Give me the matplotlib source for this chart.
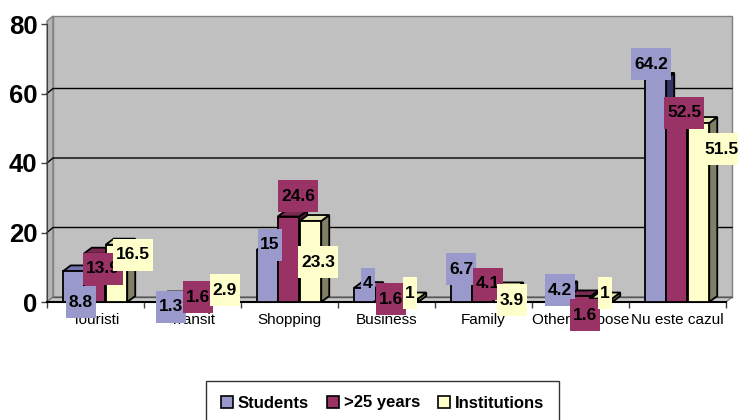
import matplotlib
matplotlib.use("Agg")
import matplotlib.pyplot as plt
from matplotlib.patches import Polygon, Rectangle, Patch
from matplotlib import font_manager
import numpy as np

categories = ["Touristi", "Transit", "Shopping", "Business", "Family", "Other purpose", "Nu este cazul"]
students = [8.8, 1.3, 15, 4, 6.7, 4.2, 64.2]
over25 = [13.9, 1.6, 24.6, 1.6, 4.1, 1.6, 52.5]
institutions = [16.5, 2.9, 23.3, 1, 3.9, 1, 51.5]
series_names = ["Students", ">25 years", "Institutions"]
yticks = [0, 20, 40, 60, 80]

front = ["#9999CC", "#993366", "#FFFFCC"]
topc = ["#7373AD", "#7A2952", "#E6E6B3"]
sidec = ["#333366", "#4D1A33", "#808066"]

# label offsets in pixels (right, down) from the top centre of each bar
lab_off = [
    [(7.5, 30.6), (0.5, 9.5), (2.5, -4.9), (3.5, -4.1), (-0.5, -9.7), (1.5, 2.6), (-4.5, -14.9)],
    [(8.5, 15.3), (6.5, 0.6), (9.5, -20.5), (5.5, 2.6), (5.5, -3.8), (5.5, 18.6), (7.5, -6.6)],
    [(16.5, 10.3), (11.5, -1.9), (7.5, 41), (2.5, -5.5), (7.5, 11.6), (3.5, -5.5), (22.5, 26)],
]

names = {f.name for f in font_manager.fontManager.ttflist}
fam = "Liberation Sans Narrow" if "Liberation Sans Narrow" in names else "Liberation Sans"
plt.rcParams["font.family"] = [fam, "DejaVu Sans"]

W, H = 738, 420
L, R, B, T = 47, 726, 302, 24
fig = plt.figure(figsize=(W / 100, H / 100), dpi=100)
ax = fig.add_axes([L / W, 1 - B / H, (R - L) / W, (B - T) / H])
ax.set_xlim(-0.5, 6.5)
ax.set_ylim(0, 80)
ax.patch.set_visible(False)

sx = 7 / (R - L)
sy = 80 / (B - T)

# walls and floor
dxw, dyw = 6 * sx, 5 * sy
wtop = 286 * sy
wall_kw = dict(clip_on=False, lw=1, ec="#808080")
ax.add_patch(Polygon([(-0.5 + dxw, dyw), (6.5 + dxw, dyw), (6.5 + dxw, wtop), (-0.5 + dxw, wtop)],
                     fc="#C0C0C0", zorder=0, **wall_kw))
ax.add_patch(Polygon([(-0.5, 0), (-0.5 + dxw, dyw), (-0.5 + dxw, wtop), (-0.5, wtop - dyw)],
                     fc="#B4B4B4", zorder=0, **wall_kw))
ax.add_patch(Polygon([(-0.5, 0), (6.5, 0), (6.5 + dxw, dyw), (-0.5 + dxw, dyw)],
                     fc="#C8C8C8", zorder=0.5, **wall_kw))
for v in yticks[1:-1]:
    ax.plot([-0.5, -0.5 + dxw, 6.5 + dxw], [v, v + dyw, v + dyw], color="black", lw=1,
            zorder=0.6, clip_on=False)
ax.plot([-0.5 + dxw, 6.5 + dxw], [dyw, dyw], color="#555555", lw=1, zorder=0.6, clip_on=False)

# bars
offs = np.array([-22, -1, 21]) / 97
w = 21.5 / 97
dxb, dyb = 8 * sx, 6 * sy
for j, vals in enumerate([students, over25, institutions]):
    for i, v in enumerate(vals):
        x0 = i + offs[j] - w / 2
        x1 = x0 + w
        z = 3 + j * 0.1
        ax.add_patch(Polygon([(x1, 0), (x1 + dxb, dyb), (x1 + dxb, v + dyb), (x1, v)],
                             fc=sidec[j], ec="black", lw=1.3, zorder=z, clip_on=False))
        ax.add_patch(Polygon([(x0, v), (x1, v), (x1 + dxb, v + dyb), (x0 + dxb, v + dyb)],
                             fc=topc[j], ec="black", lw=1.3, zorder=z, clip_on=False))
        ax.add_patch(Rectangle((x0, 0), w, v, fc=front[j], ec="black", lw=1.3, zorder=z + 0.01,
                               clip_on=False))

# data labels
for j, vals in enumerate([students, over25, institutions]):
    for i, v in enumerate(vals):
        dx, dy = lab_off[j][i]
        ax.annotate(f"{v:g}", xy=(i + offs[j], v), xytext=(dx * 0.72, -dy * 0.72),
                    textcoords="offset points", ha="center", va="center",
                    fontsize=12.5, fontweight="bold", zorder=10, annotation_clip=False,
                    bbox=dict(boxstyle="square,pad=0.15", fc=front[j], ec="none",
                              mutation_aspect=3.2))

for s in ["top", "right"]:
    ax.spines[s].set_visible(False)
ax.spines["left"].set_color("#404040")
ax.spines["bottom"].set_color("black")
ax.spines["bottom"].set_linewidth(1.5)

ax.set_yticks(yticks)
ax.tick_params(axis="y", length=4, width=1, color="#404040", pad=3, labelsize=18.5)
for lab in ax.get_yticklabels():
    lab.set_fontweight("bold")
ax.set_xticks(range(len(categories)))
ax.set_xticklabels(categories)
ax.set_xticks(np.arange(-0.5, 7, 1), minor=True)
ax.tick_params(axis="x", which="major", length=0, pad=8, labelsize=11)
ax.tick_params(axis="x", which="minor", length=4, width=1, color="#404040")

handles = [Patch(fc=front[j], ec="black", lw=1.2) for j in range(3)]
leg = fig.legend(handles, series_names, loc="center", bbox_to_anchor=(382.5 / W, 1 - 403 / H),
                 ncol=3, frameon=True, fancybox=False, edgecolor="black",
                 handlelength=0.7, handleheight=0.7, handletextpad=0.3, columnspacing=1.1,
                 borderpad=0.9, borderaxespad=0, prop=dict(family=fam, weight="bold", size=12))
leg.get_frame().set_linewidth(1)

fig.savefig("out.png", dpi=100)
